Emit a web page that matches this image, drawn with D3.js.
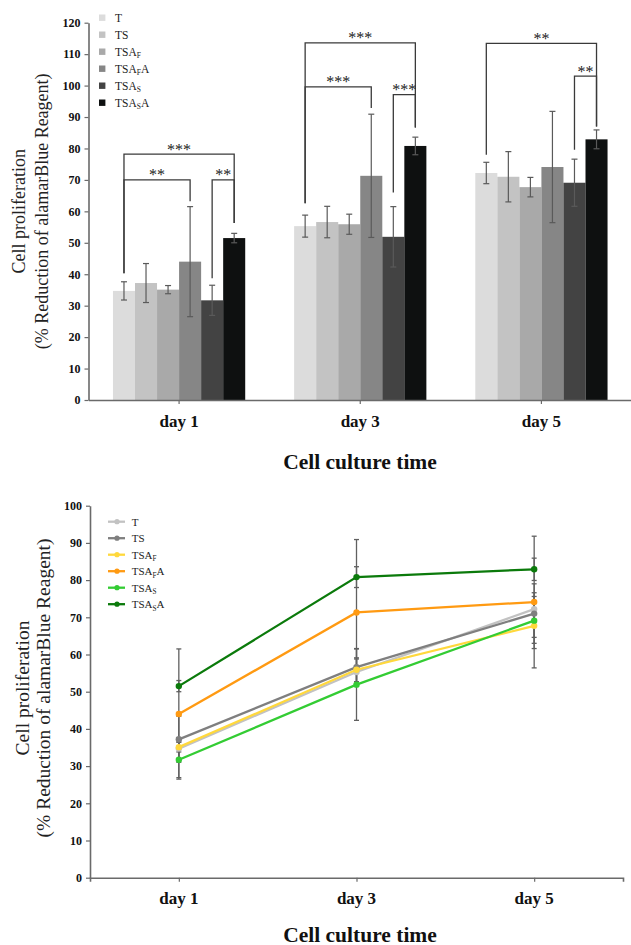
<!DOCTYPE html>
<html>
<head>
<meta charset="utf-8">
<script src="https://cdn.jsdelivr.net/npm/d3@7/dist/d3.min.js"></script>
<style>
  html, body { margin: 0; padding: 0; background: #fff; }
  svg { display: block; font-family: "Liberation Serif", "Times New Roman", serif; }
</style>
</head>
<body>
<svg id="chart" width="631" height="945"></svg>
<script>
// ---------------- data ----------------
const days = ["day 1", "day 3", "day 5"];
const seriesNames = ["T", "TS", "TSA_F", "TSA_FA", "TSA_S", "TSA_SA"];

const meanT      = [34.7, 55.3, 72.2];
const meanTS     = [37.2, 56.6, 71.0];
const meanTSAF   = [35.1, 55.9, 67.7];
const meanTSAFA  = [44.0, 71.3, 74.1];
const meanTSAS   = [31.7, 51.9, 69.1];
const meanTSASA  = [51.5, 80.8, 82.9];

const errT      = [2.9, 3.5, 3.4];
const errTS     = [6.2, 5.0, 8.0];
const errTSAF   = [1.3, 3.2, 3.1];
const errTSAFA  = [17.5, 19.6, 17.7];
const errTSAS   = [4.8, 9.6, 7.5];
const errTSASA  = [1.5, 2.8, 3.0];

const barTicks  = [0, 10, 20, 30, 40, 50, 60, 70, 80, 90, 100, 110, 120];
const lineTicks = [0, 10, 20, 30, 40, 50, 60, 70, 80, 90, 100];

// significance brackets: day index, series from/to, bracket level, leg ends (data units)
const bracketDay   = [0, 0, 0, 1, 1, 1, 2, 2];
const bracketFrom  = [0, 0, 4, 0, 0, 4, 0, 4];
const bracketTo    = [5, 3, 5, 5, 3, 5, 5, 5];
const bracketLevel = [78.2, 70, 70, 113.6, 99.6, 97.1, 113.4, 103];
const bracketFromEnd = [40.3, 40.3, 38.7, 62.6, 62.6, 66, 78, 79.6];
const bracketToEnd   = [56.3, 63.2, 56.3, 86.7, 92.9, 86.7, 87, 87];
const bracketLabel = ["***", "**", "**", "***", "***", "***", "**", "**"];

const means = [meanT, meanTS, meanTSAF, meanTSAFA, meanTSAS, meanTSASA];
const errs  = [errT, errTS, errTSAF, errTSAFA, errTSAS, errTSASA];

const barColors  = ["#dcdcdc", "#c3c3c3", "#a9a9a9", "#868686", "#434343", "#0e1010"];
const lineColors = ["#c2c2c2", "#7f7f7f", "#ffd83c", "#ff9a12", "#33cc33", "#0b7a0b"];

const svg = d3.select("#chart");
const axisColor = "#6a6a6a";

function labelParts(sel, name, subSize, subShift) {
  const m = name.match(/^([A-Z]+)_([A-Z])(A?)$/);
  if (!m) { sel.append("tspan").text(name); return; }
  sel.append("tspan").text(m[1]);
  sel.append("tspan").attr("font-size", subSize).attr("dy", subShift).text(m[2]);
  if (m[3]) sel.append("tspan").attr("dy", -subShift).text(m[3]);
}

function styleAxis(g) {
  g.selectAll(".domain").attr("stroke", axisColor).attr("stroke-width", 1.6);
  g.selectAll(".tick line").attr("stroke", axisColor).attr("stroke-width", 1.2);
}

// ================= TOP: grouped bar chart =================
(function () {
  const yTop = 22.7, yBot = 400;
  const y = d3.scaleLinear().domain([0, 120]).range([yBot, yTop]);
  const x0 = d3.scaleBand().domain(days).range([88.5, 632]).paddingInner(0.27).paddingOuter(0.135);
  const x1 = d3.scaleBand().domain(d3.range(seriesNames.length)).range([0, x0.bandwidth()]).padding(0);
  const g = svg.append("g");

  // bars
  days.forEach((d, di) => {
    seriesNames.forEach((s, si) => {
      g.append("rect")
        .attr("x", x0(d) + x1(si))
        .attr("y", y(means[si][di]))
        .attr("width", x1.bandwidth())
        .attr("height", y(0) - y(means[si][di]))
        .attr("fill", barColors[si]);
    });
  });
  // error bars
  days.forEach((d, di) => {
    seriesNames.forEach((s, si) => {
      const cx = x0(d) + x1(si) + x1.bandwidth() / 2;
      const hi = y(means[si][di] + errs[si][di]);
      const lo = y(means[si][di] - errs[si][di]);
      const eg = g.append("g").attr("stroke", "#5a5a5a").attr("stroke-width", 1.2);
      eg.append("line").attr("x1", cx).attr("x2", cx).attr("y1", hi).attr("y2", lo);
      eg.append("line").attr("x1", cx - 3).attr("x2", cx + 3).attr("y1", hi).attr("y2", hi);
      eg.append("line").attr("x1", cx - 3).attr("x2", cx + 3).attr("y1", lo).attr("y2", lo);
    });
  });

  // significance brackets
  bracketDay.forEach((di, i) => {
    const d = days[di];
    const xa = x0(d) + x1(bracketFrom[i]) + x1.bandwidth() / 2;
    const xb = x0(d) + x1(bracketTo[i]) + x1.bandwidth() / 2;
    const yl = y(bracketLevel[i]);
    g.append("path")
      .attr("d", `M${xa},${y(bracketFromEnd[i])}V${yl}H${xb}V${y(bracketToEnd[i])}`)
      .attr("fill", "none").attr("stroke", "#3a3a3a").attr("stroke-width", 1.3);
    g.append("text")
      .attr("x", (xa + xb) / 2).attr("y", yl + 0.5)
      .attr("text-anchor", "middle").attr("font-size", 16).attr("fill", "#222")
      .text(bracketLabel[i]);
  });

  // axes
  const ya = g.append("g").attr("transform", "translate(88.5,0)")
    .call(d3.axisLeft(y).tickValues(barTicks).tickSize(4).tickPadding(4).tickSizeOuter(0));
  ya.selectAll("text").attr("font-size", 12).attr("font-weight", "bold").attr("fill", "#111")
    .attr("font-family", "Liberation Serif");
  styleAxis(ya);
  const xa = g.append("g").attr("transform", `translate(0,${yBot})`)
    .call(d3.axisBottom(x0).tickSize(4).tickSizeOuter(0).tickFormat(() => ""));
  styleAxis(xa);
  days.forEach(d => {
    g.append("text").attr("x", x0(d) + x0.bandwidth() / 2).attr("y", 427)
      .attr("text-anchor", "middle").attr("font-size", 17).attr("font-weight", "bold")
      .attr("fill", "#111").text(d);
  });
  g.append("text").attr("x", 360).attr("y", 469).attr("text-anchor", "middle")
    .attr("font-size", 21.5).attr("font-weight", "bold").attr("fill", "#111").text("Cell culture time");

  // y label
  const yc = (yTop + yBot) / 2;
  g.append("text").attr("transform", `translate(18.3,${yc}) rotate(-90)`).attr("dy", "0.35em")
    .attr("text-anchor", "middle").attr("font-size", 18).attr("fill", "#222").text("Cell proliferation");
  g.append("text").attr("transform", `translate(41.7,${yc}) rotate(-90)`).attr("dy", "0.35em")
    .attr("text-anchor", "middle").attr("font-size", 18).attr("fill", "#222").text("(% Reduction of alamarBlue Reagent)");

  // legend
  seriesNames.forEach((s, si) => {
    const ly = 17.7 + si * 17;
    g.append("rect").attr("x", 99).attr("y", ly - 3.2).attr("width", 6.4).attr("height", 6.4).attr("fill", barColors[si]);
    const t = g.append("text").attr("x", 115).attr("y", ly + 4).attr("font-size", 11.5).attr("fill", "#222");
    labelParts(t, s, 7.5, 2.5);
  });
})();

// ================= BOTTOM: line chart =================
(function () {
  const yTop = 505.7, yBot = 877.7;
  const y = d3.scaleLinear().domain([0, 100]).range([yBot, yTop]);
  const x = d3.scalePoint().domain(days).range([90, 623]).padding(0.5);
  const g = svg.append("g");

  // axes
  const ya = g.append("g").attr("transform", "translate(90,0)")
    .call(d3.axisLeft(y).tickValues(lineTicks).tickSize(4).tickPadding(4).tickSizeOuter(0));
  ya.selectAll("text").attr("font-size", 12).attr("font-weight", "bold").attr("fill", "#111")
    .attr("font-family", "Liberation Serif");
  styleAxis(ya);
  const xa = g.append("g").attr("transform", `translate(0,${yBot})`)
    .call(d3.axisBottom(x).tickSize(4).tickSizeOuter(4).tickFormat(() => ""));
  styleAxis(xa);
  days.forEach(d => {
    g.append("text").attr("x", x(d)).attr("y", 903.5)
      .attr("text-anchor", "middle").attr("font-size", 17).attr("font-weight", "bold")
      .attr("fill", "#111").text(d);
  });
  g.append("text").attr("x", 360).attr("y", 941.5).attr("text-anchor", "middle")
    .attr("font-size", 21.5).attr("font-weight", "bold").attr("fill", "#111").text("Cell culture time");

  const yc = 688;
  g.append("text").attr("transform", `translate(21.7,${yc}) rotate(-90)`).attr("dy", "0.35em")
    .attr("text-anchor", "middle").attr("font-size", 19.5).attr("fill", "#222").text("Cell proliferation");
  g.append("text").attr("transform", `translate(43.5,${yc}) rotate(-90)`).attr("dy", "0.35em")
    .attr("text-anchor", "middle").attr("font-size", 19.5).attr("fill", "#222").text("(% Reduction of alamarBlue Reagent)");

  // error bars
  seriesNames.forEach((s, si) => {
    days.forEach((d, di) => {
      const cx = x(d);
      const hi = y(means[si][di] + errs[si][di]);
      const lo = y(means[si][di] - errs[si][di]);
      const eg = g.append("g").attr("stroke", "#606060").attr("stroke-width", 1.3);
      eg.append("line").attr("x1", cx).attr("x2", cx).attr("y1", hi).attr("y2", lo);
      eg.append("line").attr("x1", cx - 2.5).attr("x2", cx + 2.5).attr("y1", hi).attr("y2", hi);
      eg.append("line").attr("x1", cx - 2.5).attr("x2", cx + 2.5).attr("y1", lo).attr("y2", lo);
    });
  });

  // lines
  const line = d3.line().x((v, i) => x(days[i])).y(v => y(v));
  seriesNames.forEach((s, si) => {
    g.append("path").datum(means[si]).attr("d", line)
      .attr("fill", "none").attr("stroke", lineColors[si]).attr("stroke-width", 2.3);
    g.selectAll(null).data(means[si]).enter().append("circle")
      .attr("cx", (v, i) => x(days[i])).attr("cy", v => y(v)).attr("r", 3.2)
      .attr("fill", lineColors[si]);
  });

  // legend
  seriesNames.forEach((s, si) => {
    const ly = 521.7 + si * 16.5;
    g.append("line").attr("x1", 108).attr("x2", 125).attr("y1", ly).attr("y2", ly)
      .attr("stroke", lineColors[si]).attr("stroke-width", 2.3);
    g.append("circle").attr("cx", 117).attr("cy", ly).attr("r", 2.6).attr("fill", lineColors[si]);
    const t = g.append("text").attr("x", 131.7).attr("y", ly + 4).attr("font-size", 11).attr("fill", "#222");
    labelParts(t, s, 7.2, 2.5);
  });
})();
</script>
</body>
</html>
